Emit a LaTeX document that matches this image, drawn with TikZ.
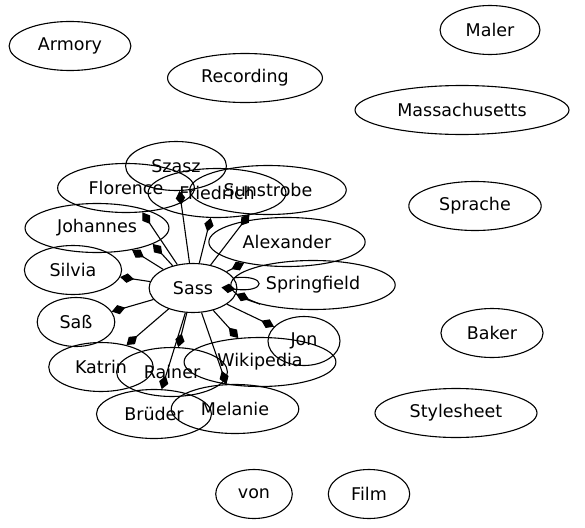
\documentclass[tikz,border=0pt]{standalone}
\usepackage{fontspec}
\setmainfont{DejaVu Sans}
\usetikzlibrary{arrows.meta,shapes.geometric}

\tikzset{
  term/.style={draw, ellipse, line width=1.1pt, minimum width=72pt, minimum height=49pt,
    inner xsep=11pt, font=\fontsize{17.5}{20}\selectfont},
  link/.style={line width=1.1pt, -{Diamond[length=14pt,width=9.5pt]}}
}

\begin{document}
\begin{tikzpicture}[x=1pt,y=-1pt]
  \useasboundingbox (0,0) rectangle (585,527);

  \node[term] (Armory) at (70,46) {Armory};
  \node[term] (Recording) at (245,78) {Recording};
  \node[term] (Maler) at (490,30) {Maler};
  \node[term] (Massachusetts) at (462,110) {Massachusetts};
  \node[term] (Szasz) at (176,166) {Szasz};
  \node[term] (Florence) at (126,188) {Florence};
  \node[term] (Friedrich) at (217,193) {Friedrich};
  \node[term] (Sunstrobe) at (268,190) {Sunstrobe};
  \node[term] (Sprache) at (475,206) {Sprache};
  \node[term] (Johannes) at (97,228) {Johannes};
  \node[term] (Alexander) at (287,242) {Alexander};
  \node[term] (Silvia) at (73,270) {Silvia};
  \node[term] (Sass) at (193,288) {Sass};
  \node[term] (Springfield) at (313,285) {Springfield};
  \node[term] (Sasz) at (76,322) {Saß};
  \node[term] (Jon) at (304,341) {Jon};
  \node[term] (Baker) at (492,333) {Baker};
  \node[term] (Katrin) at (101,367) {Katrin};
  \node[term] (Rainer) at (172,372) {Rainer};
  \node[term] (Wikipedia) at (260,362) {Wikipedia};
  \node[term] (Bruder) at (154,414) {Brüder};
  \node[term] (Melanie) at (235,409) {Melanie};
  \node[term] (Stylesheet) at (456,413) {Stylesheet};
  \node[term] (von) at (254,494) {von};
  \node[term] (Film) at (369,494) {Film};

  \draw[link] (Sass) -- (Szasz);
  \draw[link] (Sass) -- (Florence);
  \draw[link] (Sass) -- (Friedrich);
  \draw[link] (Sass) -- (Sunstrobe);
  \draw[link] (Sass) -- (Johannes);
  \draw[link] (Sass) -- (Johannes.-16);
  \draw[link] (Sass) -- (Alexander);
  \draw[link] (Sass) -- (Silvia);
  \draw[link] (Springfield.200) -- (Sass.-8);
  \draw[link, shorten >=-16pt] (Sass.14) .. controls +(34,-4) and +(30,4) .. (Sass.-2);
  \draw[link] (Sass) -- (Sasz);
  \draw[link] (Sass) -- (Katrin);
  \draw[link] (Sass) -- (Rainer);
  \draw[link] (Sass) -- (Bruder);
  \draw[link] (Sass) -- (Melanie);
  \draw[link] (Sass) -- (Wikipedia);
  \draw[link] (Sass) -- (Jon);
\end{tikzpicture}
\end{document}
